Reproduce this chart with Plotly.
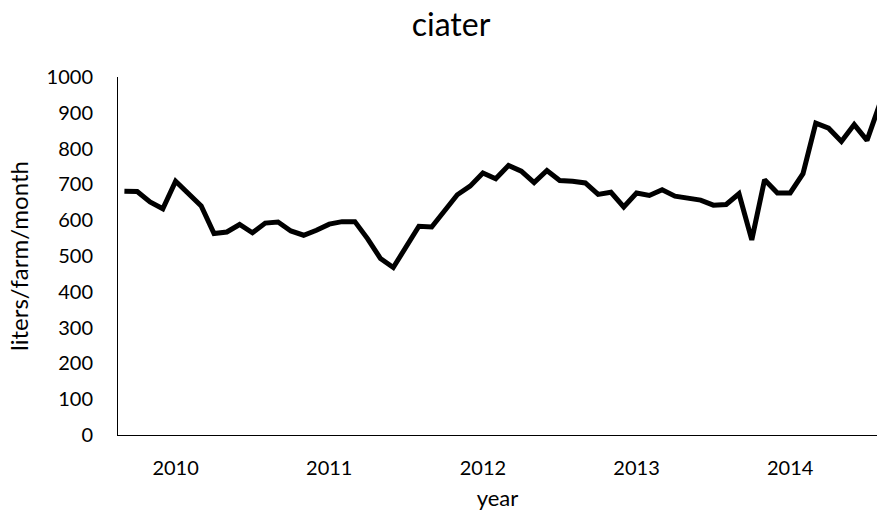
import plotly.graph_objects as go

# Monthly series, Sep 2009 .. Aug 2014
months = [f"{2009 + (8 + i) // 12}-{(8 + i) % 12 + 1:02d}" for i in range(60)]
values = [681, 680, 651, 632, 709, 674, 640, 563, 567, 588,
          565, 592, 595, 570, 558, 572, 589, 596, 596, 548,
          493, 468, 525, 583, 581, 628, 671, 695, 732, 716,
          753, 737, 705, 739, 711, 709, 704, 672, 678, 637,
          676, 669, 685, 667, 660, 656, 642, 644, 674, 545,
          713, 676, 676, 730, 871, 857, 820, 867, 823, 925]
year_ticks = ["2010-01", "2011-01", "2012-01", "2013-01", "2014-01"]
year_labels = ["2010", "2011", "2012", "2013", "2014"]
y_ticks = list(range(0, 1001, 100))

FONT = "Lato, 'Open Sans', sans-serif"

fig = go.Figure(go.Scatter(
    x=months, y=values, mode="lines",
    line=dict(color="#000000", width=5),
    hoverinfo="x+y",
))

fig.update_layout(
    width=877, height=523,
    margin=dict(l=118, r=0, t=77, b=88, autoexpand=False),
    paper_bgcolor="white", plot_bgcolor="white",
    font=dict(family=FONT, color="#000000", size=20),
    showlegend=False,
    title=dict(text="ciater", font=dict(family=FONT, size=32, color="#000000"),
               xref="container", x=451 / 877, xanchor="center",
               yref="container", y=1 - 25 / 523, yanchor="middle"),
)

fig.update_xaxes(
    type="category", range=[-0.5, 58.78], automargin=False,
    tickmode="array", tickvals=year_ticks, ticktext=year_labels,
    showgrid=False, zeroline=False,
    showline=True, linecolor="#000000", linewidth=1,
    ticks="", ticklabelstandoff=15,
    tickfont=dict(family=FONT, size=20, color="#000000"),
    title=dict(text="year", font=dict(family=FONT, size=22, color="#000000"), standoff=12),
)
fig.update_yaxes(
    range=[0, 1000], tickmode="array", tickvals=y_ticks, automargin=False,
    showgrid=False, zeroline=False,
    showline=True, linecolor="#000000", linewidth=1,
    ticks="", ticklabelstandoff=20,
    tickfont=dict(family=FONT, size=20, color="#000000"),
    title=dict(text="liters/farm/month", font=dict(family=FONT, size=24, color="#000000"), standoff=11),
)

fig.write_html(
    "out.html",
    config={"displayModeBar": False},
    post_script="document.body.style.margin='0';document.body.style.overflow='hidden';",
)
